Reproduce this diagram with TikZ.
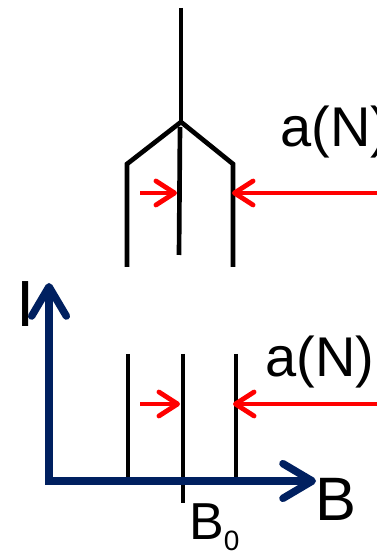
\documentclass[tikz,border=0pt]{standalone}
\usepackage{fontspec}
\setmainfont{Liberation Sans}
\usetikzlibrary{arrows.meta,positioning}
\definecolor{axisblue}{RGB}{0,32,96}
\tikzset{
  toppeak/.style={line width=3.5pt, black},
  botpeak/.style={line width=3pt, black},
  shiftarrow/.style={line width=3.6pt, red, -{Straight Barb[length=14pt,width=18pt,round]}},
  axisline/.style={line width=5.6pt, axisblue, line join=miter,
    {Straight Barb[length=22pt,width=26pt,round]}-{Straight Barb[length=22pt,width=26pt,round]}},
  lbl/.style={inner sep=0pt, anchor=base west}
}
\begin{document}
\begin{tikzpicture}[x=0.75pt,y=0.75pt]
                \useasboundingbox (0,0) rectangle (376,555);
                % split line, top
                \coordinate (stemtop) at (181,547);
                \coordinate (fork) at (181,433);
                \coordinate (leftknee) at (127,391);
                \coordinate (rightknee) at (233,391);
                \draw[toppeak] (stemtop) -- (fork);
                \draw[toppeak, line join=miter] (leftknee |- 0,288) -- (leftknee) -- (fork) -- (rightknee) -- (rightknee |- 0,288);
                \draw[toppeak] (180,428) -- (179,300);
                \draw[shiftarrow] (140,362) -- (177,362);
                \draw[shiftarrow] (380,362) -- (232,362);
                \node[lbl] (aNtop) at (280,408) {\fontsize{42}{42}\selectfont a(N)};
                % spectrum with axes, bottom
                \coordinate (origin) at (49,74);
                \coordinate (ytip) at (49,272);
                \coordinate (xtip) at (316,74);
                \draw[botpeak] (128,201) -- (128,78);
                \draw[botpeak] (183,201) -- (183,52);
                \draw[botpeak] (236,201) -- (236,78);
                \draw[axisline] (ytip) -- (origin) -- (xtip);
                \draw[shiftarrow] (140,151) -- (180,151);
                \draw[shiftarrow] (380,151) -- (233,151);
                \node[lbl] (aNbot) at (265,178) {\fontsize{42}{42}\selectfont a(N)};
                \node[inner sep=0pt, anchor=base] (labelI) at (26,228) {\fontsize{49}{49}\selectfont I};
                \node[lbl] (labelB) at (315,34) {\fontsize{46}{46}\selectfont B};
                \node[lbl] (labelBzero) at (189,16) {\fontsize{39}{39}\selectfont B\raisebox{-8.5pt}{\fontsize{21}{21}\selectfont 0}};
            \end{tikzpicture}
\end{document}
